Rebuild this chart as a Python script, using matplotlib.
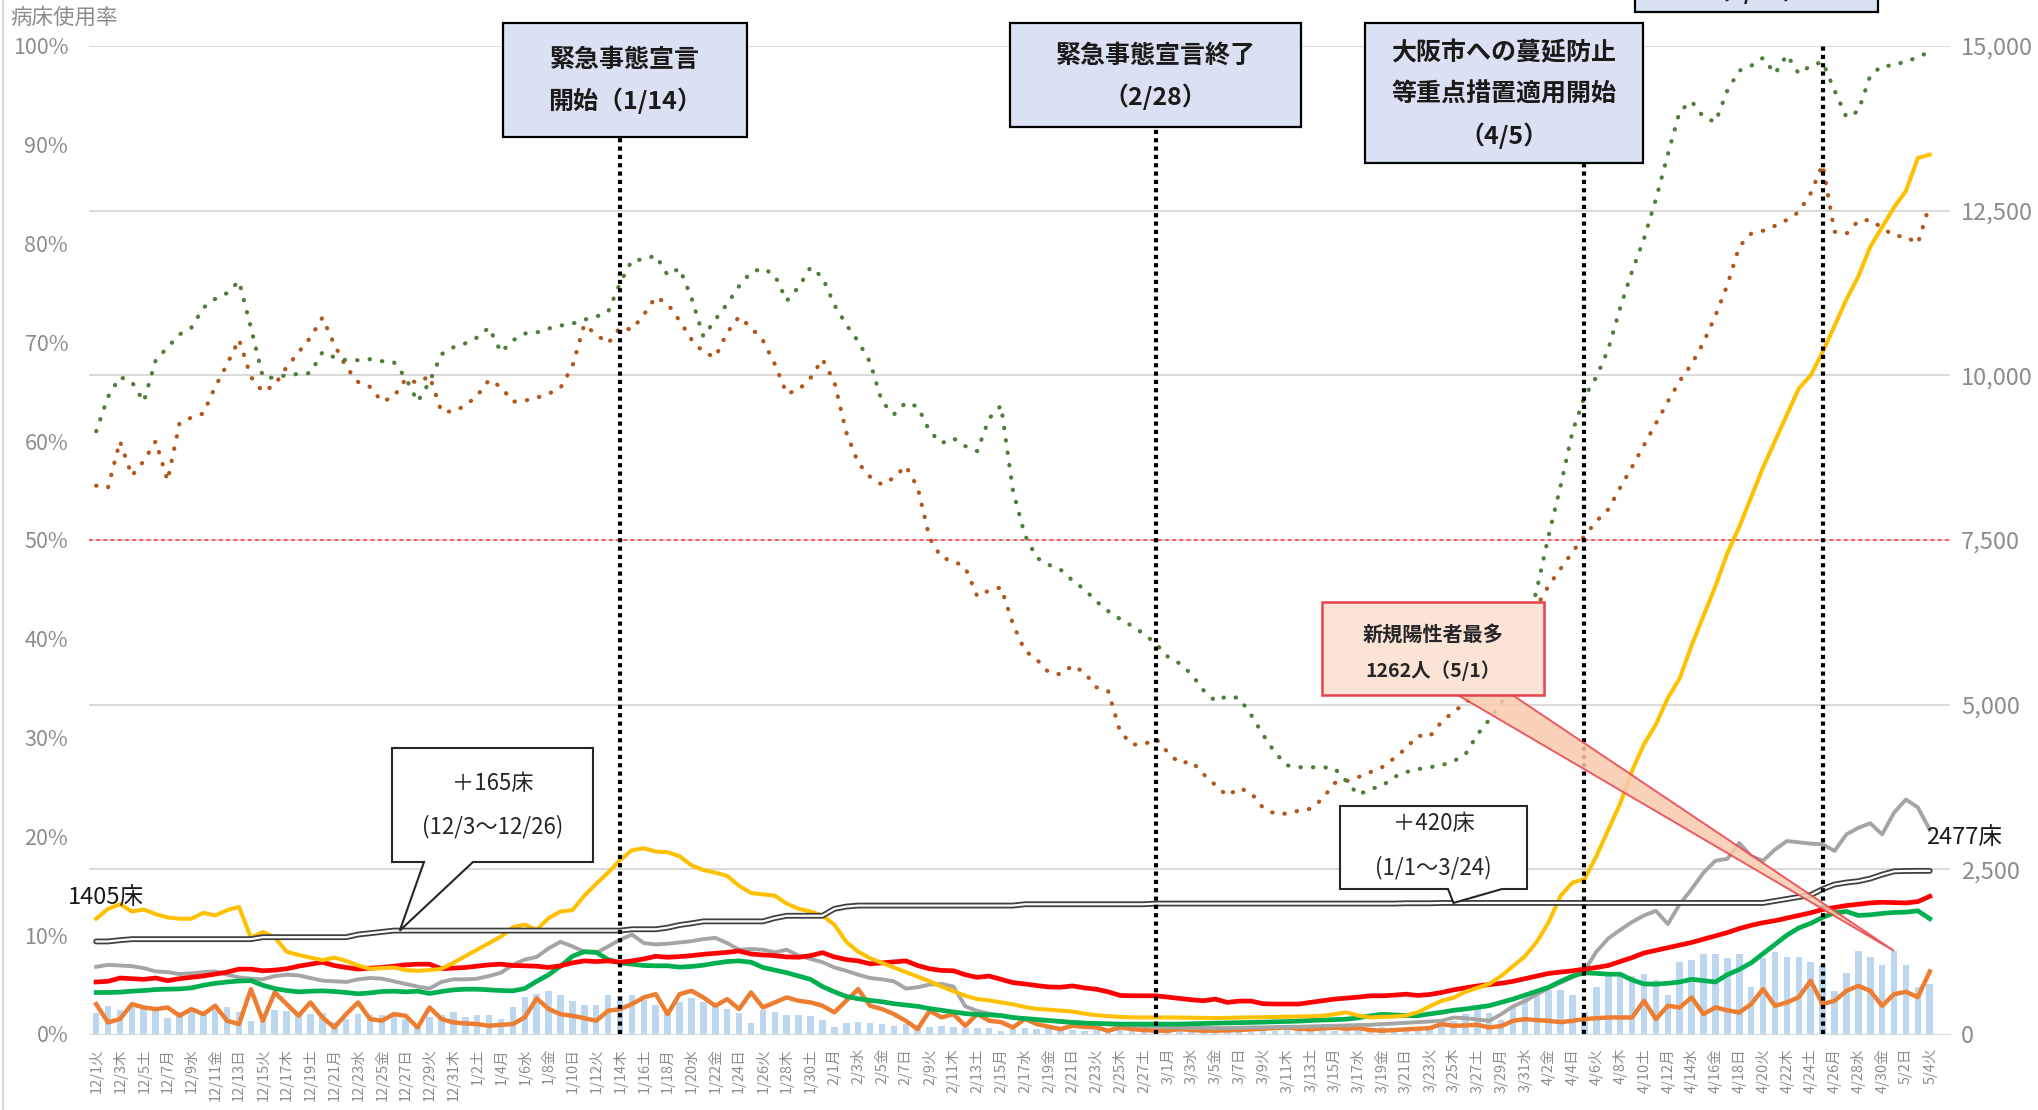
import numpy as np
import pandas as pd
import matplotlib
matplotlib.use("Agg")
import matplotlib.pyplot as plt
from matplotlib.patches import Rectangle, Polygon
from matplotlib.lines import Line2D

plt.rcParams['font.family'] = ['Noto Sans CJK JP', 'DejaVu Sans']

# ---------------------------------------------------------------- data
dates = pd.date_range('2020-12-01', '2021-05-04', freq='D')
WEEK = '月火水木金土日'
tick_labels = [f"{d.month}/{d.day}{WEEK[d.weekday()]}" for d in dates]

# bed occupancy rates (%), left axis
rate_green = [
    61.0, 64.5, 66.5, 66.0, 64.0, 68.2, 69.5, 70.8, 71.5, 73.5,
    74.4, 75.0, 76.2, 71.5, 66.5, 66.4, 66.7, 66.8, 66.9, 69.0,
    68.5, 68.2, 68.2, 68.3, 68.1, 68.0, 66.4, 64.0, 66.0, 68.8,
    69.5, 69.9, 70.5, 71.5, 69.0, 70.2, 70.9, 71.0, 71.4, 71.7,
    71.9, 72.3, 72.6, 73.1, 76.0, 78.3, 78.4, 78.8, 76.8, 77.5,
    74.5, 70.6, 72.3, 73.9, 75.7, 77.1, 77.5, 76.8, 74.2, 75.6,
    77.6, 76.6, 73.8, 71.8, 70.1, 68.0, 64.0, 62.7, 63.9, 63.5,
    61.0, 59.8, 60.3, 59.5, 59.0, 62.3, 63.6, 55.0, 50.5, 48.2,
    47.5, 47.0, 45.9, 45.0, 43.8, 42.8, 42.0, 41.3, 40.5, 39.5,
    38.2, 37.5, 36.4, 34.8, 33.7, 34.2, 34.0, 32.3, 30.3, 28.5,
    27.2, 27.0, 27.0, 27.0, 26.9, 25.6, 24.2, 24.8, 25.1, 26.0,
    26.5, 26.8, 27.0, 27.2, 27.6, 28.3, 30.3, 31.8, 33.5, 35.5,
    40.5, 45.0, 50.5, 55.5, 61.0, 64.5, 66.5, 69.3, 73.5, 77.2,
    80.5, 84.5, 89.0, 93.4, 94.4, 92.8, 92.3, 95.5, 97.5, 98.0,
    98.8, 97.2, 99.1, 97.2, 98.0, 98.4, 95.5, 92.8, 93.4, 97.0,
    98.0, 98.0, 98.5, 98.8, 99.5]

rate_brown = [
    55.5, 55.3, 60.0, 56.5, 58.0, 60.0, 56.0, 61.8, 62.4, 62.8,
    65.5, 67.8, 70.3, 66.5, 65.0, 65.7, 67.5, 69.0, 70.5, 72.5,
    69.8, 67.5, 66.0, 65.5, 64.0, 64.5, 66.3, 65.9, 66.6, 63.0,
    63.0, 63.6, 64.6, 66.2, 65.5, 64.0, 64.1, 64.4, 64.8, 65.4,
    67.6, 71.8, 70.8, 69.9, 71.5, 71.3, 72.8, 74.6, 73.9, 72.2,
    70.3, 69.0, 68.5, 71.0, 72.6, 71.5, 70.2, 67.8, 64.8, 65.2,
    66.4, 68.3, 66.0, 60.9, 57.8, 56.4, 55.6, 56.3, 57.5, 55.3,
    50.2, 48.2, 47.9, 47.2, 44.3, 44.9, 45.2, 41.5, 38.8, 37.9,
    36.6, 36.4, 37.3, 36.6, 35.1, 34.7, 30.6, 29.3, 29.3, 29.9,
    28.5, 27.4, 27.6, 26.3, 25.2, 24.1, 24.9, 24.4, 22.9, 22.3,
    22.3, 22.6, 22.8, 23.8, 25.4, 25.6, 26.0, 26.5, 27.0, 27.9,
    28.9, 30.2, 30.1, 31.6, 32.6, 33.5, 34.6, 36.2, 37.5, 39.4,
    41.5, 43.3, 45.4, 47.1, 48.8, 50.4, 51.9, 53.1, 55.3, 57.4,
    59.6, 61.8, 64.0, 66.1, 67.8, 70.0, 72.7, 75.8, 79.7, 81.0,
    81.3, 81.8, 82.4, 83.2, 85.1, 88.0, 81.2, 81.0, 82.3, 82.4,
    81.6, 80.8, 80.7, 80.0, 84.0]

# counts (people / beds), right axis
line_yellow = [
    1750, 1900, 1970, 1860, 1890, 1820, 1770, 1750, 1750, 1840,
    1800, 1880, 1930, 1460, 1550, 1470, 1250, 1200, 1160, 1120,
    1160, 1110, 1040, 990, 1000, 1010, 970, 960, 970, 990,
    1080, 1180, 1280, 1380, 1480, 1620, 1660, 1580, 1760, 1860,
    1880, 2100, 2280, 2450, 2640, 2790, 2820, 2770, 2760, 2700,
    2560, 2490, 2450, 2400, 2250, 2140, 2120, 2100, 1980, 1900,
    1860, 1800, 1660, 1400, 1250, 1150, 1080, 1010, 940, 870,
    800, 720, 650, 580, 530, 510, 480, 450, 410, 380,
    370, 355, 340, 310, 285, 270, 260, 252, 252, 252,
    252, 250, 248, 245, 242, 245, 250, 252, 255, 258,
    262, 265, 270, 277, 300, 328, 280, 252, 260, 265,
    280, 330, 420, 504, 550, 640, 700, 760, 880, 1030,
    1180, 1400, 1700, 2100, 2300, 2350, 2700, 3100, 3500, 4000,
    4400, 4700, 5100, 5400, 5900, 6350, 6800, 7300, 7700, 8150,
    8600, 9000, 9400, 9800, 10000, 10350, 10750, 11150, 11500, 11950,
    12250, 12550, 12800, 13300, 13350]

line_gray = [
    1020, 1050, 1040, 1030, 1000, 950, 940, 910, 920, 940,
    950, 900, 860, 840, 830, 880, 900, 890, 850, 810,
    800, 790, 830, 850, 840, 800, 760, 720, 690, 790,
    830, 830, 840, 880, 930, 1050, 1130, 1170, 1300, 1400,
    1330, 1250, 1230, 1330, 1430, 1510, 1380, 1360, 1370, 1390,
    1410, 1440, 1460, 1380, 1280, 1290, 1280, 1240, 1280, 1190,
    1140, 1090, 1010, 960, 900, 850, 830, 800, 690, 710,
    750, 760, 720, 420, 350, 310, 280, 250, 230, 210,
    200, 190, 180, 170, 160, 150, 140, 130, 120, 110,
    100, 100, 95, 95, 90, 90, 95, 100, 100, 105,
    110, 110, 115, 120, 125, 130, 135, 140, 150, 160,
    170, 180, 190, 200, 250, 240, 220, 200, 300, 420,
    500, 600, 700, 780, 860, 960, 1250, 1450, 1580, 1700,
    1800, 1870, 1670, 1970, 2200, 2450, 2630, 2660, 2900, 2700,
    2630, 2800, 2930, 2910, 2890, 2880, 2780, 3030, 3130, 3200,
    3030, 3360, 3560, 3440, 3100]

line_red = [
    790, 800, 850, 840, 830, 850, 810, 840, 860, 880,
    910, 940, 985, 985, 960, 970, 990, 1030, 1060, 1090,
    1040, 1010, 985, 1000, 1010, 1030, 1050, 1060, 1060, 990,
    1000, 1010, 1030, 1050, 1060, 1040, 1035, 1030, 1010, 1035,
    1080, 1110, 1100, 1110, 1090, 1110, 1140, 1180, 1165, 1175,
    1190, 1210, 1225, 1240, 1260, 1215, 1200, 1190, 1170, 1165,
    1190, 1235, 1170, 1130, 1110, 1065, 1080, 1095, 1110, 1040,
    990, 965, 960, 900, 860, 880, 830, 780, 760, 735,
    715, 710, 730, 700, 680, 640, 585, 580, 580, 580,
    560, 540, 520, 505, 530, 480, 500, 500, 460, 455,
    455, 455, 480, 505, 530, 545, 560, 580, 580, 590,
    605, 585, 600, 630, 670, 700, 730, 750, 770, 800,
    840, 880, 920, 940, 960, 985, 1010, 1040, 1100, 1160,
    1230, 1270, 1310, 1350, 1390, 1440, 1490, 1540, 1600, 1650,
    1690, 1720, 1760, 1800, 1840, 1890, 1920, 1950, 1970, 1990,
    2000, 1995, 1990, 2010, 2090]

line_green = [
    630, 630, 635, 650, 660, 675, 680, 685, 700, 740,
    770, 790, 805, 810, 740, 690, 660, 640, 650, 655,
    645, 630, 610, 625, 645, 650, 640, 650, 615, 645,
    670, 680, 680, 670, 660, 655, 690, 800, 900, 1030,
    1180, 1250, 1240, 1130, 1080, 1060, 1040, 1035, 1035, 1015,
    1025, 1045, 1075, 1100, 1110, 1090, 1010, 970, 930, 880,
    830, 720, 640, 570, 535, 510, 490, 460, 440, 420,
    385, 360, 335, 310, 295, 290, 280, 250, 235, 220,
    205, 190, 175, 165, 160, 155, 150, 150, 150, 150,
    150, 150, 155, 160, 165, 168, 172, 176, 180, 186,
    190, 196, 205, 211, 218, 225, 245, 275, 300, 290,
    280, 278, 305, 330, 360, 380, 405, 430, 480, 530,
    590, 650, 710, 800, 880, 930, 920, 908, 908, 820,
    760, 757, 770, 790, 830, 810, 790, 900, 980, 1080,
    1220, 1360, 1500, 1610, 1680, 1770, 1840, 1860, 1800, 1810,
    1830, 1845, 1850, 1870, 1750]

line_orange = [
    454, 176, 227, 454, 403, 378, 403, 277, 378, 302,
    429, 200, 151, 681, 201, 631, 454, 277, 479, 252,
    100, 302, 479, 227, 201, 302, 277, 100, 403, 227,
    176, 160, 151, 125, 140, 151, 252, 540, 380, 300,
    277, 240, 201, 353, 378, 454, 555, 605, 302, 605,
    656, 555, 429, 530, 378, 631, 403, 480, 555, 504,
    480, 429, 328, 504, 681, 429, 378, 302, 200, 75,
    353, 252, 302, 125, 302, 201, 180, 100, 227, 151,
    110, 75, 125, 110, 100, 50, 100, 75, 60, 50,
    50, 75, 60, 50, 50, 55, 60, 70, 80, 90,
    100, 80, 70, 85, 95, 80, 90, 60, 50, 60,
    70, 80, 90, 150, 125, 130, 140, 100, 120, 200,
    226, 210, 200, 180, 200, 226, 240, 251, 251, 251,
    504, 226, 428, 403, 555, 302, 403, 360, 327, 454,
    681, 428, 479, 560, 807, 454, 504, 655, 731, 655,
    428, 605, 640, 560, 950]

secured_beds = [
    1405, 1405, 1425, 1440, 1440, 1440, 1440, 1440, 1440, 1440,
    1440, 1440, 1440, 1440, 1470, 1470, 1470, 1470, 1470, 1470,
    1470, 1470, 1510, 1530, 1550, 1570, 1570, 1570, 1570, 1570,
    1570, 1570, 1570, 1570, 1570, 1570, 1570, 1570, 1570, 1570,
    1570, 1570, 1570, 1570, 1570, 1590, 1590, 1590, 1615, 1655,
    1680, 1710, 1710, 1710, 1710, 1710, 1710, 1760, 1795, 1795,
    1795, 1795, 1900, 1935, 1950, 1950, 1950, 1950, 1950, 1950,
    1950, 1950, 1950, 1950, 1950, 1950, 1950, 1950, 1970, 1970,
    1970, 1970, 1970, 1970, 1970, 1970, 1970, 1970, 1970, 1980,
    1980, 1980, 1980, 1980, 1980, 1980, 1980, 1980, 1980, 1980,
    1980, 1980, 1980, 1980, 1980, 1980, 1980, 1980, 1980, 1980,
    1985, 1985, 1985, 1990, 1990, 1990, 1990, 1990, 1990, 1990,
    1990, 1990, 1990, 1990, 1990, 1990, 1990, 1990, 1990, 1990,
    1990, 1990, 1990, 1990, 1990, 1990, 1990, 1990, 1990, 1990,
    1990, 2020, 2050, 2080, 2110, 2200, 2270, 2300, 2320, 2360,
    2420, 2470, 2475, 2477, 2477]

new_cases = [
    318, 427, 368, 406, 392, 361, 247, 335, 333, 323,
    386, 412, 337, 202, 222, 358, 354, 304, 302, 321,
    189, 231, 299, 282, 289, 297, 222, 159, 262, 292, 334,
    262, 282, 287, 226, 406, 560, 607, 654, 592, 501,
    433, 445, 592, 582, 590, 521, 447, 338, 479, 539,
    479, 432, 378, 323, 174, 358, 340, 288, 296, 277, 211,
    109, 172, 183, 169, 159, 125, 149, 72, 106, 117,
    111, 88, 88, 91, 40, 75, 94, 80, 86, 70,
    57, 45, 56, 83, 80, 76, 62, 37,
    28, 52, 80, 64, 67, 64, 51, 29, 62, 51,
    75, 65, 65, 57, 41, 69, 77, 98, 108, 90,
    61, 75, 111, 158, 201, 300, 386, 323, 213, 432, 599,
    616, 666, 666, 593, 341, 719, 878, 905, 883, 918,
    815, 593, 1099, 1130, 1208, 1209, 1161, 1220, 719, 1153,
    1242, 1167, 1162, 1097, 1050, 655, 923, 1260, 1172, 1043,
    1262, 1052, 708, 757]

events = ['2021-01-14', '2021-02-28', '2021-04-05', '2021-04-25']
bed_steps = [('2020-12-03', '2020-12-26'), ('2021-01-01', '2021-03-24')]

# ---------------------------------------------------------------- layout
W, H = 2038, 1110
fig = plt.figure(figsize=(W / 100, H / 100), dpi=100)


def fx(px):
    return px / W


def fy(py):
    return 1 - py / H


AX_L, AX_R, AX_T, AX_B = 89, 1950, 46, 1034
ax = fig.add_axes([fx(AX_L), fy(AX_B), fx(AX_R) - fx(AX_L), fy(AX_T) - fy(AX_B)])
ax2 = ax.twinx()
ax.set_zorder(0)
ax2.set_zorder(1)
ax2.patch.set_visible(False)

x = np.arange(len(dates))
YMAX_R = 15000
ax.set_xlim(-0.6, 155.7)
ax.set_ylim(0, 100)
ax2.set_ylim(0, YMAX_R)

GRID = '#D9D9D9'
TICK_C = '#8C8C8C'

right_ticks = np.arange(0, YMAX_R + 1, 2500)
for t in right_ticks[1:]:
    ax.axhline(t / YMAX_R * 100, color=GRID, lw=1.4, zorder=0)
ax.axhline(50, color='#FF4B4B', lw=1.3, ls=(0, (2, 2)), zorder=1)

for a in (ax, ax2):
    for s in a.spines.values():
        s.set_visible(False)
ax.spines['bottom'].set_visible(True)
ax.spines['bottom'].set_color(GRID)

# rate lines (dotted)
dot = (0, (0.1, 2.9))
ax.plot(x, rate_brown, color='#B4561A', lw=3.0, ls=dot, dash_capstyle='round', zorder=3)
ax.plot(x, rate_green, color='#4F7F36', lw=3.0, ls=dot, dash_capstyle='round', zorder=3)

# counts on the right axis
ax2.bar(x, new_cases, width=0.55, color='#BDD7EE', zorder=1)
ax2.plot(x, line_orange, color='#ED7D31', lw=3.2, zorder=2)
ax2.plot(x, line_gray, color='#A5A5A5', lw=2.8, zorder=2)
ax2.plot(x, line_green, color='#00B050', lw=3.4, zorder=2)
ax2.plot(x, line_red, color='#FF0000', lw=3.4, zorder=2)
ax2.plot(x, line_yellow, color='#FFC000', lw=2.9, zorder=2)
ax2.plot(x, secured_beds, color='#404040', lw=4.2, zorder=4, solid_capstyle='round')
ax2.plot(x, secured_beds, color='white', lw=1.6, zorder=4, solid_capstyle='round')

# ticks
ax.set_xticks(x[::2])
ax.set_xticklabels(tick_labels[::2], rotation=90, fontsize=10.5, color=TICK_C)
ax.tick_params(axis='x', length=0, pad=10)
ax.set_yticks(np.arange(0, 101, 10))
ax.set_yticklabels([f"{v}%" for v in range(0, 101, 10)], fontsize=15.5, color=TICK_C)
ax.tick_params(axis='y', length=0, pad=15)
ax2.set_yticks(right_ticks)
ax2.set_yticklabels([f"{v:,}" for v in right_ticks], fontsize=17, color=TICK_C)
ax2.tick_params(axis='y', length=0, pad=8)

fig.text(fx(10), fy(18), '病床使用率', fontsize=15.5, color=TICK_C, ha='left', va='center')
fig.add_artist(Line2D([fx(3), fx(3)], [0, 1], color=GRID, lw=1.5))


def day_of(s):
    return int((pd.Timestamp(s) - dates[0]).days)


def data_to_fig(xv, yv):
    disp = ax2.transData.transform((xv, yv))
    return tuple(fig.transFigure.inverted().transform(disp))


# event boxes with vertical markers
BOX_FC = '#D9E1F2'
event_boxes = [
    ((503, 23, 747, 137), ['緊急事態宣言', '開始（1/14）'], [60, 101]),
    ((1010, 23, 1301, 127), ['緊急事態宣言終了', '（2/28）'], [56, 97]),
    ((1365, 23, 1643, 163), ['大阪市への蔓延防止', '等重点措置適用開始', '（4/5）'], [53, 94, 136]),
    ((1635, -130, 1878, 12), ['緊急事態宣言', '（4/25）'], [-52, -9]),
]
for ev, (box, lines, ys) in zip(events, event_boxes):
    x0, y0, x1, y1 = box
    fig.add_artist(Rectangle((fx(x0), fy(y1)), fx(x1) - fx(x0), fy(y0) - fy(y1),
                             transform=fig.transFigure, fc=BOX_FC, ec='black',
                             lw=1.6, zorder=5))
    for line, yy in zip(lines, ys):
        fig.text(fx((x0 + x1) / 2), fy(yy), line, ha='center', va='center',
                 fontsize=18, fontweight='bold', color='#1A1A1A', zorder=6)
    ymax = (AX_B - y1) / (AX_B - AX_T)
    ax2.axvline(day_of(ev), ymin=0, ymax=ymax, color='black', lw=3.0,
                ls=(0, (1, 1)), zorder=6)

# bed count callouts
def bubble(box, base, tip, lines, ys, fs=16):
    x0, y0, x1, y1 = box
    pts = [(fx(x0), fy(y0)), (fx(x1), fy(y0)), (fx(x1), fy(y1)),
           (fx(base[1]), fy(y1)), tip, (fx(base[0]), fy(y1)), (fx(x0), fy(y1))]
    fig.add_artist(Polygon(pts, closed=True, transform=fig.transFigure,
                           fc='white', ec='#262626', lw=1.5, zorder=5))
    for line, yy in zip(lines, ys):
        fig.text(fx((x0 + x1) / 2), fy(yy), line, ha='center', va='center',
                 fontsize=fs, color='#262626', zorder=6)


s1, e1 = (day_of(d) for d in bed_steps[0])
s2, e2 = (day_of(d) for d in bed_steps[1])
add1 = secured_beds[e1] - secured_beds[s1 - 1]
add2 = secured_beds[e2] - secured_beds[s2 - 1]
bubble((392, 748, 593, 862), (424, 473), data_to_fig(e1 + 0.5, secured_beds[e1]),
       [f'＋{add1}床', '(12/3～12/26)'], [784, 827])
bubble((1340, 806, 1527, 889), (1448, 1502), data_to_fig(e2 + 1, secured_beds[e2]),
       [f'＋{add2}床', '(1/1～3/24)'], [824, 868])

fig.text(fx(68), fy(897), f'{secured_beds[0]}床', fontsize=17, color='#1A1A1A',
         ha='left', va='center', zorder=6)
fig.text(fx(1926), fy(837), f'{secured_beds[-1]}床', fontsize=17, color='#1A1A1A',
         ha='left', va='center', zorder=6)

# peak new cases callout
peak = int(np.argmax(new_cases))
tip = data_to_fig(peak, new_cases[peak])
fig.add_artist(Polygon([(fx(1456), fy(694)), (fx(1511), fy(694)), tip], closed=True,
                       transform=fig.transFigure, fc='#F8CBAD', ec='#E8414B',
                       lw=1.4, alpha=0.85, zorder=5))
fig.add_artist(Rectangle((fx(1322), fy(695)), fx(1544) - fx(1322), fy(602) - fy(695),
                         transform=fig.transFigure, fc='#FBE3D6', ec='#E8414B',
                         lw=1.8, zorder=5))
pd_ = dates[peak]
fig.text(fx(1433), fy(634), '新規陽性者最多', ha='center', va='center', fontsize=14.5,
         fontweight='bold', color='#262626', zorder=6)
fig.text(fx(1433), fy(671), f'{new_cases[peak]}人（{pd_.month}/{pd_.day}）', ha='center',
         va='center', fontsize=14, fontweight='bold', color='#262626', zorder=6)

fig.savefig('out.png', dpi=100)
